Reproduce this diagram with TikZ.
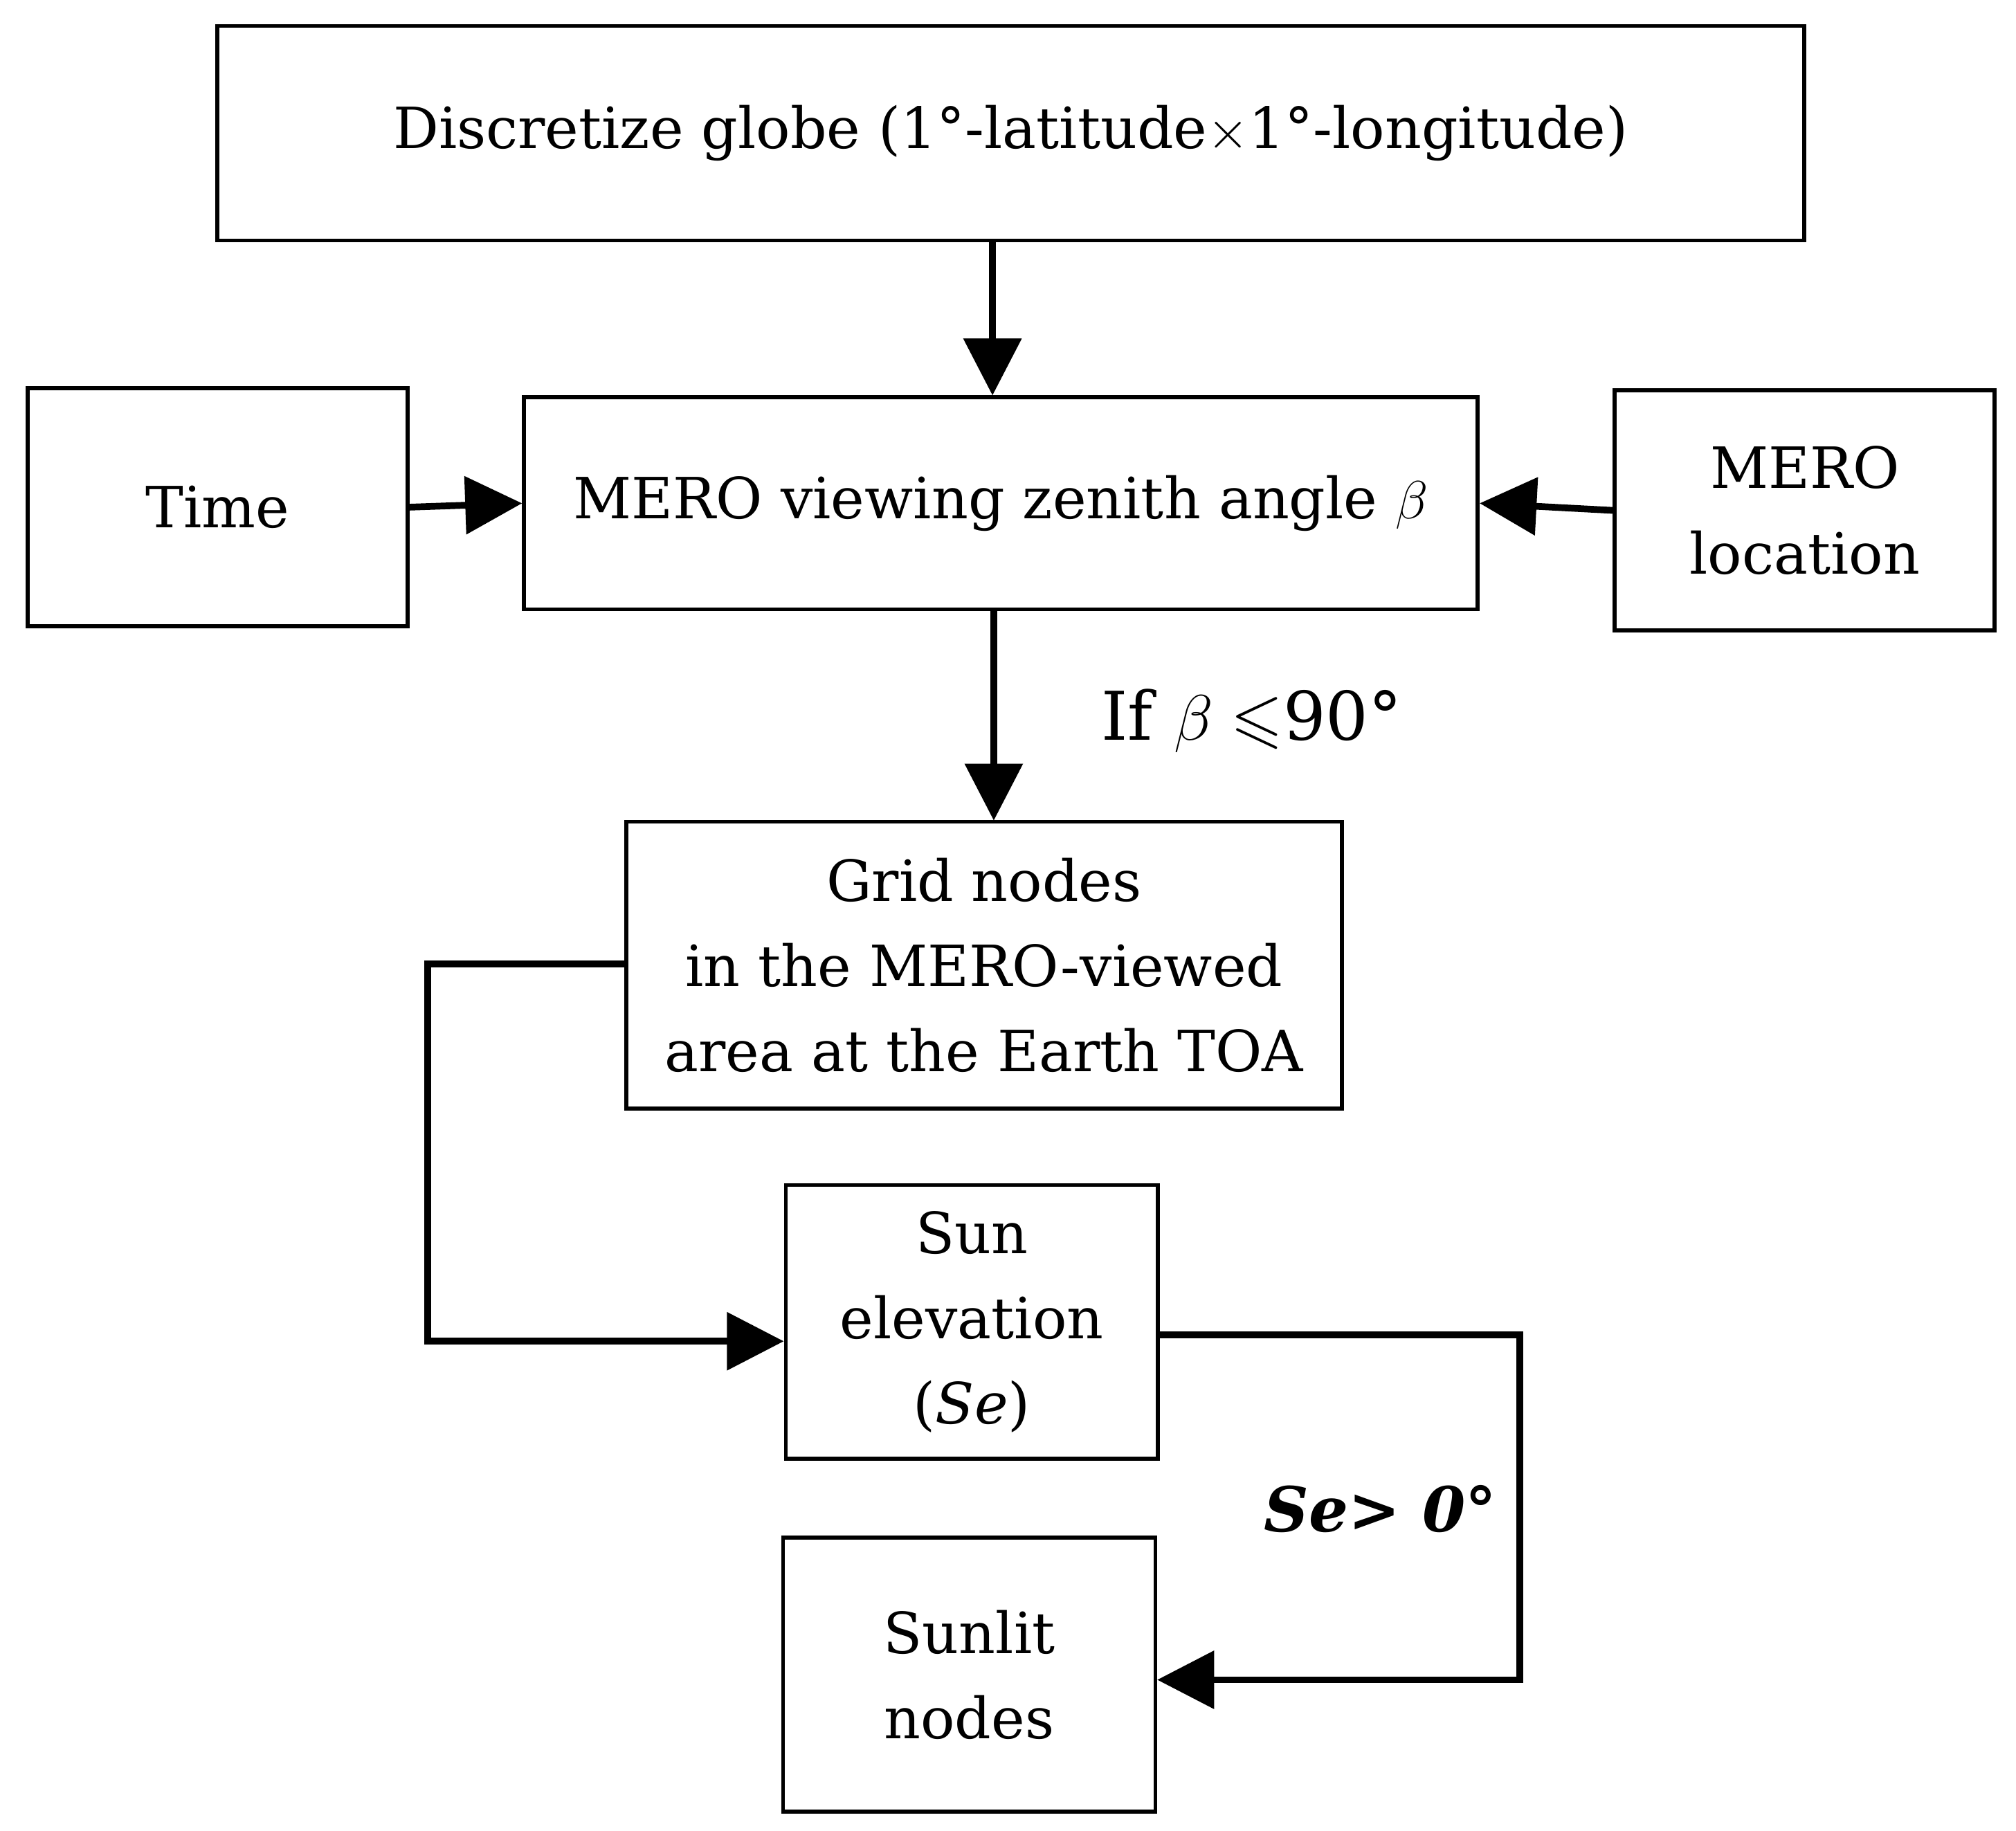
\documentclass[tikz,border=0pt]{standalone}
\usepackage{fontspec}
\usepackage{amssymb}
\setmainfont{DejaVu Serif}
\usetikzlibrary{arrows.meta}
\begin{document}
\begin{tikzpicture}[x=0.5pt,y=-0.5pt,
  box/.style={draw,line width=1.5pt,inner sep=0pt,align=center,font=\fontsize{22}{33}\selectfont},
  arr/.style={line width=2.6pt,-{Triangle[length=22pt,width=22pt]}}]
\useasboundingbox (0,0) rectangle (1560,1417);
\node[box,minimum width=614pt,minimum height=83pt] (top) at (782,103) {Discretize globe (1°-latitude$\times$1°-longitude)};
\node[box,minimum width=147pt,minimum height=92pt] (time) at (168.5,392.5) {Time};
\node[box,minimum width=369pt,minimum height=82pt] (mero) at (774.5,389.5) {MERO viewing zenith angle $\beta$};
\node[box,minimum width=147pt,minimum height=93pt] (loc) at (1396.5,395) {MERO\\location};
\node[box,minimum width=277pt,minimum height=111pt] (grid) at (761.5,747) {Grid nodes\\in the MERO-viewed\\area at the Earth TOA};
\node[box,minimum width=144pt,minimum height=106pt] (sun) at (752,1023) {Sun\\elevation\\(\textit{Se})};
\node[box,minimum width=144pt,minimum height=106pt] (lit) at (750,1296) {Sunlit\\nodes};
\draw[arr] (768,186) -- (768,306);
\draw[arr] (time.east) -- (mero.west);
\draw[arr] (loc.west) -- (mero.east);
\draw[arr] (769,472) -- (769,635);
\node[font=\fontsize{26}{30}\selectfont,anchor=west] (if) at (845,558) {If $\beta\leqslant$90°};
\draw[arr] (grid.west|-0,746) -- (331,746) -- (331,1038) -- (sun.west|-0,1038);
\draw[arr] (sun.east|-0,1033) -- (1176,1033) -- (1176,1300) -- (lit.east|-0,1300);
\node[font=\fontsize{24}{30}\selectfont\bfseries\itshape,anchor=east] (se) at (1165,1168) {Se> 0°};
\end{tikzpicture}
\end{document}
